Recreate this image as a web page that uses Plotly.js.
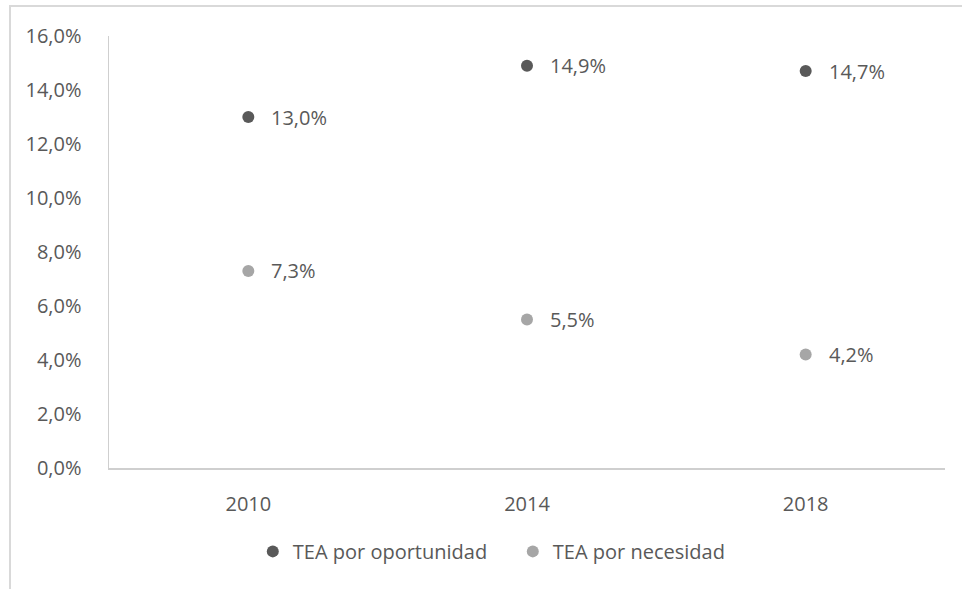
<!DOCTYPE html>
<html>
<head>
<meta charset="utf-8">
<script src="https://cdn.plot.ly/plotly-3.0.1.min.js"></script>
<style>
  html, body { margin: 0; padding: 0; background: #ffffff; }
  #wrap { position: relative; width: 962px; height: 589px; overflow: hidden; }
  #chart { position: absolute; left: 0; top: 0; width: 962px; height: 589px; }
  #frame { position: absolute; left: 9px; top: 5px; width: 1200px; height: 800px;
           border-top: 2px solid #d9d9d9; border-left: 2px solid #d9d9d9; pointer-events: none; }
</style>
</head>
<body>
<div id="wrap">
  <div id="chart"></div>
  <div id="frame"></div>
</div>
<script>
const years = ['2010', '2014', '2018'];
const oportunidad = [13.0, 14.9, 14.7];
const necesidad = [7.3, 5.5, 4.2];
const seriesNames = ['TEA por oportunidad', 'TEA por necesidad'];
const yTicks = [0, 2, 4, 6, 8, 10, 12, 14, 16];

const PCT = String.fromCharCode(37);
const textColor = '#595959';
const fontFam = '"Open Sans", "Noto Sans", sans-serif';
const fontSize = 20;
const darkColor = '#595959';
const lightColor = '#a6a6a6';

function fmt(v) { return v.toFixed(1).replace('.', ',') + PCT; }

const traces = [
  { x: years, y: oportunidad, name: seriesNames[0], type: 'scatter', mode: 'markers',
    marker: { color: darkColor, size: 12 }, cliponaxis: false },
  { x: years, y: necesidad, name: seriesNames[1], type: 'scatter', mode: 'markers',
    marker: { color: lightColor, size: 12 }, cliponaxis: false }
];

const annotations = [];
[oportunidad, necesidad].forEach(function (arr) {
  arr.forEach(function (v, i) {
    annotations.push({
      x: i, y: v, xref: 'x', yref: 'y', text: fmt(v),
      showarrow: false, xanchor: 'left', yanchor: 'middle', xshift: 21,
      font: { family: fontFam, size: fontSize, color: textColor }
    });
  });
});

const layout = {
  width: 962, height: 589,
  margin: { l: 108.5, r: 16.5, t: 36, b: 120.5, pad: 0 },
  paper_bgcolor: 'rgba(0,0,0,0)', plot_bgcolor: 'rgba(0,0,0,0)',
  font: { family: fontFam, size: fontSize, color: textColor },
  separators: ',.',
  showlegend: true,
  legend: {
    orientation: 'h', x: 0.172, xanchor: 'left', y: -0.193, yanchor: 'middle',
    font: { family: fontFam, size: fontSize, color: textColor },
    itemwidth: 30, traceorder: 'normal', entrywidth: 215
  },
  xaxis: {
    type: 'category', categoryarray: years, range: [-0.5, 2.5],
    showline: true, linecolor: '#cfcfcf', linewidth: 1.5,
    showgrid: false, zeroline: false,
    ticks: 'outside', ticklen: 17, tickcolor: 'rgba(0,0,0,0)',
    tickfont: { family: fontFam, size: fontSize, color: textColor }
  },
  yaxis: {
    range: [0, 16], tickvals: yTicks,
    ticktext: yTicks.map(fmt),
    showline: true, linecolor: '#cfcfcf', linewidth: 1.5,
    showgrid: false, zeroline: false,
    ticks: 'outside', ticklen: 22, tickcolor: 'rgba(0,0,0,0)',
    tickfont: { family: fontFam, size: fontSize, color: textColor }
  },
  annotations: annotations
};

Plotly.newPlot('chart', traces, layout, { staticPlot: true, displayModeBar: false });
</script>
</body>
</html>
